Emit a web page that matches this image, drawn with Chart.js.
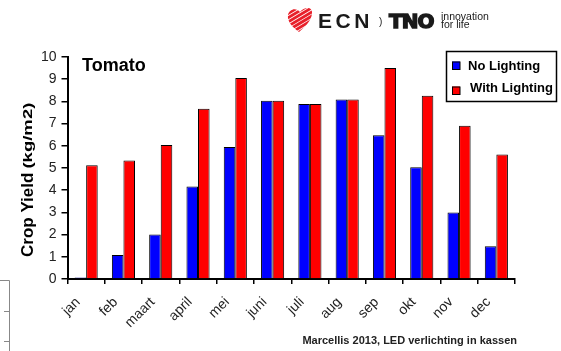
<!DOCTYPE html>
<html>
<head>
<meta charset="utf-8">
<script src="https://cdn.jsdelivr.net/npm/chart.js@4/dist/chart.umd.min.js"></script>
<style>
  html, body { margin: 0; padding: 0; background: #fff; }
  #wrap { width: 561px; height: 351px; position: relative; }
</style>
</head>
<body>
<div id="wrap"><canvas id="c"></canvas></div>
<script>
// Monthly tomato yield with and without LED lighting (kg/m2)
const months = ['jan', 'feb', 'maart', 'april', 'mei', 'juni', 'juli', 'aug', 'sep', 'okt', 'nov', 'dec'];
const noLighting   = [0.07, 1.08, 2.00, 4.17, 5.95, 8.03, 7.88, 8.09, 6.47, 5.03, 2.99, 1.47];
const withLighting = [5.12, 5.34, 6.04, 7.67, 9.05, 8.03, 7.88, 8.09, 9.50, 8.26, 6.90, 5.61];
const seriesNames = ['No Lighting', 'With Lighting'];
const seriesColors = ['#0000FF', '#FF0000'];
const yMin = 0, yMax = 10, yStep = 1;

const chartTitle = 'Tomato';
const yTitleMain = 'Crop Yield';
const yTitleUnit = '(kg/m2)';
const sourceNote = 'Marcellis 2013, LED verlichting in kassen';
const logoWords = ['ECN', 'TNO', 'innovation', 'for life'];

const FONT = '"Liberation Sans", Arial, sans-serif';

// Extra drawing: logo, titles, legend box, source note
const decorations = {
  id: 'decorations',
  afterDraw(chart) {
    const ctx = chart.ctx;
    ctx.save();

    // --- logo: striped red emblem ---
    ctx.save();
    ctx.beginPath();
    ctx.moveTo(299, 32);
    ctx.bezierCurveTo(292, 27, 287, 21, 288, 15);
    ctx.bezierCurveTo(289, 9, 296, 7, 300, 12);
    ctx.bezierCurveTo(304, 7, 313, 6, 312, 14);
    ctx.bezierCurveTo(311, 21, 305, 27, 299, 32);
    ctx.closePath();
    ctx.clip();
    ctx.strokeStyle = '#E8202A';
    ctx.lineWidth = 2.8;
    for (let k = -30; k < 40; k += 4.2) {
      ctx.beginPath();
      ctx.moveTo(280, 40 + k);
      ctx.lineTo(320, 16 + k);
      ctx.stroke();
    }
    ctx.restore();

    ctx.fillStyle = '#1a1a1a';
    ctx.textBaseline = 'alphabetic';
    ctx.textAlign = 'left';
    ctx.font = 'bold 21px ' + FONT;
    ctx.letterSpacing = '3.5px';
    ctx.fillText(logoWords[0], 318, 28);
    ctx.letterSpacing = '0px';
    ctx.font = '10px ' + FONT;
    ctx.fillText(')', 379, 25);
    ctx.font = 'bold 20px "DejaVu Sans", sans-serif';
    ctx.lineWidth = 1.4;
    ctx.strokeStyle = '#1a1a1a';
    ctx.letterSpacing = '-1px';
    ctx.fillText(logoWords[1], 389, 28);
    ctx.strokeText(logoWords[1], 389, 28);
    ctx.letterSpacing = '0px';
    ctx.font = '10.5px ' + FONT;
    ctx.fillText(logoWords[2], 441, 19.5);
    ctx.fillText(logoWords[3], 441, 28);

    // --- chart title ---
    ctx.fillStyle = '#000';
    ctx.font = 'bold 18px ' + FONT;
    ctx.fillText(chartTitle, 82, 71);

    // --- y axis title (rotated) ---
    ctx.save();
    ctx.translate(33, 257);
    ctx.rotate(-Math.PI / 2);
    ctx.font = 'bold 17px ' + FONT;
    ctx.fillText(yTitleMain, 0, 0);
    const w1 = ctx.measureText(yTitleMain).width;
    ctx.font = 'bold 13px ' + FONT;
    const w2 = ctx.measureText(yTitleUnit).width;
    ctx.translate(w1 + 4, -1);
    ctx.scale(66 / w2, 1);
    ctx.fillText(yTitleUnit, 0, 0);
    ctx.restore();

    // --- legend ---
    const lx = 446.5, ly = 51.5, lw = 110, lh = 50;
    ctx.fillStyle = '#fff';
    ctx.fillRect(lx, ly, lw, lh);
    ctx.strokeStyle = '#000';
    ctx.lineWidth = 1.5;
    ctx.strokeRect(lx, ly, lw, lh);
    const rows = [
      { sq: [452, 61.5], tx: 468, ty: 66 },
      { sq: [452, 86.5], tx: 470, ty: 88.5 }
    ];
    chart.data.datasets.forEach((ds, i) => {
      const r = rows[i];
      ctx.fillStyle = ds.backgroundColor;
      ctx.fillRect(r.sq[0], r.sq[1], 8, 8);
      ctx.lineWidth = 1;
      ctx.strokeStyle = '#000';
      ctx.strokeRect(r.sq[0] + 0.5, r.sq[1] + 0.5, 7.5, 7.5);
      ctx.fillStyle = '#000';
      ctx.font = 'bold 13px ' + FONT;
      ctx.textBaseline = 'middle';
      ctx.fillText(ds.label, r.tx, r.ty);
    });

    // --- source note ---
    ctx.textBaseline = 'alphabetic';
    ctx.fillStyle = '#222';
    ctx.font = 'bold 11px ' + FONT;
    ctx.textAlign = 'right';
    ctx.fillText(sourceNote, 517, 344);

    // --- edge of neighbouring panel ---
    ctx.strokeStyle = '#888';
    ctx.lineWidth = 1;
    ctx.beginPath();
    ctx.moveTo(0, 280.5); ctx.lineTo(9.5, 280.5); ctx.lineTo(9.5, 351);
    ctx.moveTo(4, 311.5); ctx.lineTo(9.5, 311.5);
    ctx.moveTo(4, 341.5); ctx.lineTo(9.5, 341.5);
    ctx.stroke();

    ctx.restore();
  }
};

new Chart(document.getElementById('c'), {
  type: 'bar',
  data: {
    labels: months,
    datasets: [
      { label: seriesNames[0], data: noLighting, backgroundColor: seriesColors[0], borderColor: '#000', borderWidth: 1 },
      { label: seriesNames[1], data: withLighting, backgroundColor: seriesColors[1], borderColor: '#000', borderWidth: 1 }
    ]
  },
  options: {
    responsive: true,
    maintainAspectRatio: false,
    animation: false,
    devicePixelRatio: 1,
    layout: { padding: { top: 57, right: 46, left: 0, bottom: 0 } },
    plugins: { legend: { display: false }, tooltip: { enabled: false } },
    datasets: { bar: { categoryPercentage: 0.62, barPercentage: 1 } },
    scales: {
      x: {
        grid: { display: true, drawOnChartArea: false, drawTicks: true, tickLength: 5, color: '#000', lineWidth: 1.5, offset: true },
        border: { display: true, color: '#000', width: 2 },
        ticks: { autoSkip: false, minRotation: 45, maxRotation: 45, color: '#222', font: { family: FONT, size: 14 }, labelOffset: -8, padding: 10 },
        afterFit(s) { s.height = 72; }
      },
      y: {
        min: yMin, max: yMax,
        ticks: { stepSize: yStep, color: '#222', font: { family: FONT, size: 14 }, padding: 5 },
        grid: { display: true, drawOnChartArea: false, drawTicks: true, tickLength: 6, color: '#000', lineWidth: 1.5 },
        border: { display: true, color: '#000', width: 2 },
        afterFit(s) { s.width = 67.5; }
      }
    }
  },
  plugins: [decorations]
});
</script>
</body>
</html>
